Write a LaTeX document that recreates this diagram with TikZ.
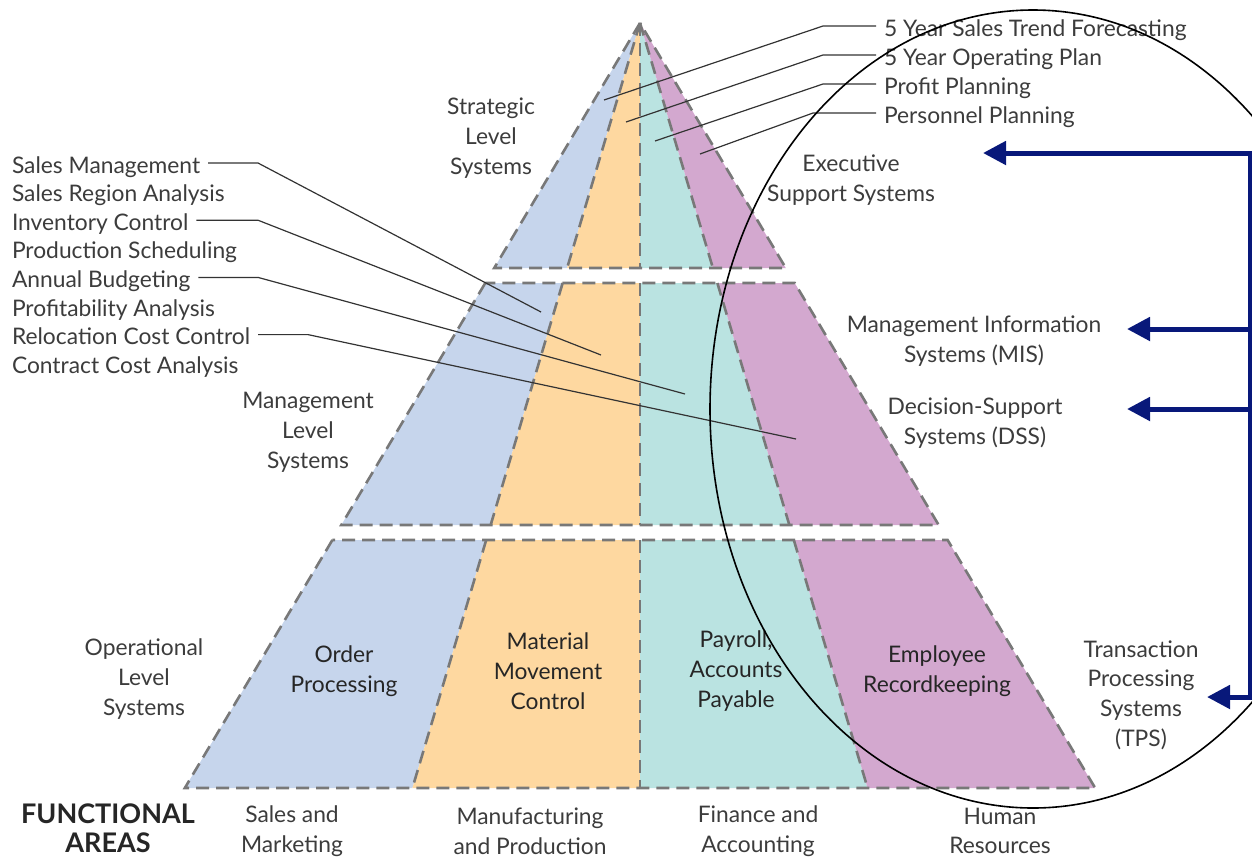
\documentclass[tikz,border=0pt]{standalone}
\usepackage{fontspec}
\setmainfont{Lato}
\usetikzlibrary{arrows.meta, positioning}

\definecolor{lvlblue}{RGB}{198,213,236}
\definecolor{lvlorange}{RGB}{254,216,160}
\definecolor{lvlteal}{RGB}{186,227,225}
\definecolor{lvlpurple}{RGB}{211,168,207}
\definecolor{dashgray}{RGB}{120,120,120}
\definecolor{txtgray}{RGB}{60,60,60}
\definecolor{arrownavy}{RGB}{8,24,122}

\begin{document}
\begin{tikzpicture}[
    x=0.5pt, y=-0.5pt,
    every node/.style={font=\fontsize{11.4}{14.9}\selectfont, text=txtgray},
    lvl/.style={align=center, inner sep=0pt},
    cell/.style={lvl, text=black!85},
    item/.style={inner sep=0pt, outer xsep=4pt, text height=10pt, text depth=0pt},
    edge/.style={draw=dashgray, line width=1.3pt, dash pattern=on 6.5pt off 3.5pt},
    lead/.style={draw=black!80, line width=0.6pt},
    bracket/.style={draw=arrownavy, line width=2.5pt},
    arrow/.style={bracket, -{Triangle[length=11.5pt, width=11.5pt]}}
]
\useasboundingbox (0,0) rectangle (1252,858);

% --- pyramid tiers ---
\foreach \ytop/\ybot in {23/268, 283/525, 540/788} {
  \foreach \ka/\kb/\col in {-0.595/-0.2975/lvlblue, -0.2975/0/lvlorange, 0/0.2975/lvlteal, 0.2975/0.595/lvlpurple}
    \fill[\col] ({640+\ka*(\ytop-23)},\ytop) -- ({640+\kb*(\ytop-23)},\ytop) -- ({640+\kb*(\ybot-23)},\ybot) -- ({640+\ka*(\ybot-23)},\ybot) -- cycle;
  \foreach \k in {-0.2975, 0, 0.2975}
    \draw[edge] ({640+\k*(\ytop-23)},\ytop) -- ({640+\k*(\ybot-23)},\ybot);
  \draw[edge] ({640-0.595*(\ytop-23)},\ytop) -- ({640-0.595*(\ybot-23)},\ybot) -- ({640+0.595*(\ybot-23)},\ybot) -- ({640+0.595*(\ytop-23)},\ytop) -- cycle;
}

% --- level labels ---
\node[lvl] (strat) at (491,138) {Strategic\\Level\\Systems};
\node[lvl] (mgmt) at (308,432) {Management\\Level\\Systems};
\node[lvl] (oper) at (144,679) {Operational\\Level\\Systems};

% --- system types ---
\node[lvl] (ess) at (851,180) {Executive\\Support Systems};
\node[lvl] (mis) at (974,341) {Management Information\\Systems (MIS)};
\node[lvl] (dss) at (975,423) {Decision-Support\\Systems (DSS)};
\node[lvl] (tps) at (1141,695) {Transaction\\Processing\\Systems\\(TPS)};

% --- operational cells ---
\node[cell] (order) at (344,671) {Order\\Processing};
\node[cell] (material) at (548,671) {Material\\Movement\\Control};
\node[cell] (payroll) at (736,671) {Payroll,\\Accounts\\Payable};
\node[cell] (employee) at (937,671) {Employee\\Recordkeeping};

% --- functional areas ---
\node[cell, font=\fontsize{13.5}{14.6}\selectfont\bfseries] (func) at (108,828) {FUNCTIONAL\\AREAS};
\node[lvl] (sales) at (292,831) {Sales and\\Marketing};
\node[lvl] (manuf) at (530,831) {Manufacturing\\and Production};
\node[lvl] (finance) at (758,831) {Finance and\\Accounting};
\node[lvl] (human) at (1000,831) {Human\\Resources};

% --- strategic examples ---
\foreach \txt [count=\i] in {5 Year Sales Trend Forecasting, 5 Year Operating Plan, Profit Planning, Personnel Planning}
  \node[item, anchor=west] (r\i) at (876, {26+29*(\i-1)}) {\txt};
\foreach \i/\kx/\px/\py in {1/823/604/100, 2/823/626/122, 3/823/655/141, 4/813/700/154} {
  \coordinate (kr\i) at (\kx, {26+29*(\i-1)});
  \coordinate (pr\i) at (\px,\py);
  \draw[lead] (r\i.west) -- (kr\i) -- (pr\i);
}

% --- management examples ---
\foreach \txt [count=\i] in {Sales Management, Sales Region Analysis, Inventory Control, Production Scheduling, Annual Budgeting, Profitability Analysis, Relocation Cost Control, Contract Cost Analysis}
  \node[item, anchor=west] (l\i) at (4, {163+28.6*(\i-1)}) {\txt};
\foreach \i/\kx/\px/\py in {1/258/541/312, 3/258/601/355, 5/258/685/394, 7/308/796/439} {
  \coordinate (kl\i) at (\kx, {163+28.6*(\i-1)});
  \coordinate (pl\i) at (\px,\py);
  \draw[lead] (l\i.east) -- (kl\i) -- (pl\i);
}

% --- ellipse round the right side ---
\draw[line width=0.8pt] (1033,409) ellipse [x radius=161.5pt, y radius=199.5pt];

% --- navy bracket ---
\coordinate (b_ess) at (1250,153);
\coordinate (b_mis) at (1250,329);
\coordinate (b_dss) at (1250,409);
\coordinate (b_tps) at (1250,697);
\coordinate (t_ess) at (983,153);
\coordinate (t_mis) at (1127,329);
\coordinate (t_dss) at (1127,409);
\coordinate (t_tps) at (1207,697);

\draw[bracket, line cap=rect] (b_ess) -- (b_tps);
\draw[arrow] (b_ess) -- (t_ess);
\draw[arrow] (b_mis) -- (t_mis);
\draw[arrow] (b_dss) -- (t_dss);
\draw[arrow] (b_tps) -- (t_tps);

\end{tikzpicture}
\end{document}
